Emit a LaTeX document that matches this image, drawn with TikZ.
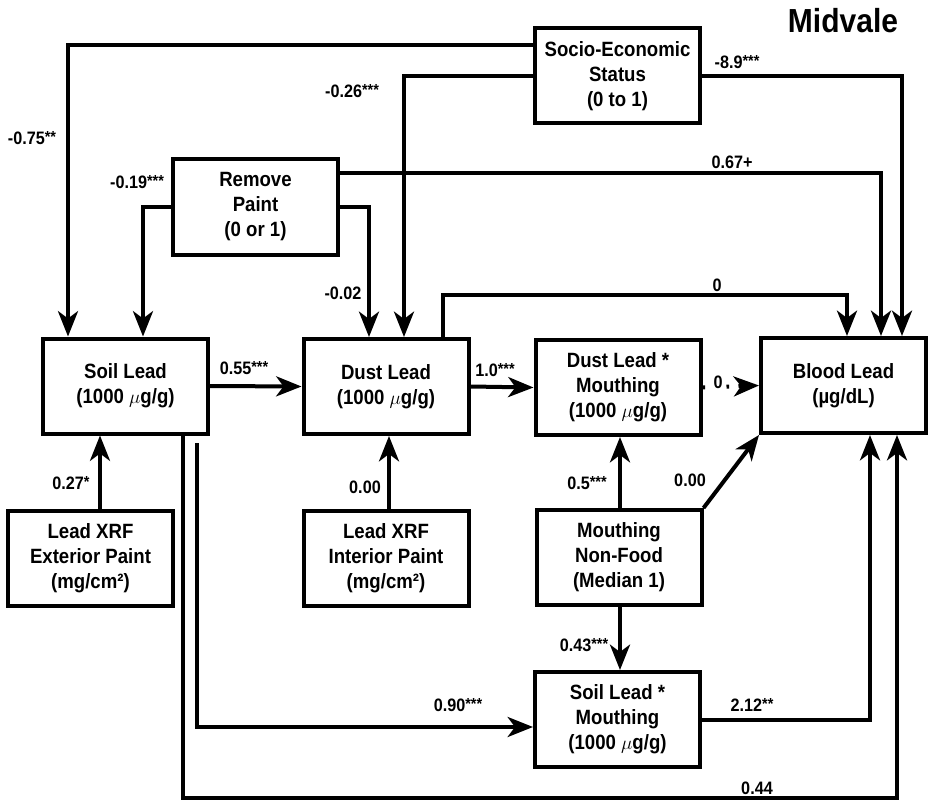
\documentclass[tikz,border=0pt]{standalone}
\usepackage{fontspec}
\setmainfont{Liberation Sans}[FakeStretch=0.9]
\usetikzlibrary{arrows.meta,calc}
\newcommand{\sig}[1]{\raisebox{0.12em}{\fontsize{12}{12}\selectfont #1}}
\begin{document}
\begin{tikzpicture}[x=0.75pt,y=-0.75pt,
  box/.style={draw,line width=3pt,minimum width=123.75pt,minimum height=71.25pt,align=center,
    font=\fontsize{15.5}{18.75}\selectfont\bfseries,inner sep=0pt},
  conn/.style={line width=3pt,-{Stealth[length=19pt,width=15pt,inset=5.5pt]}},
  lab/.style={font=\fontsize{13.5}{16}\selectfont\bfseries,inner sep=0pt}]
\useasboundingbox (0,0) rectangle (930,802);

% boxes
\node[box] (ses) at (617.5,76) {Socio-Economic\\Status\\(0 to 1)};
\node[box] (rp) at (255.5,207) {Remove\\Paint\\(0 or 1)};
\node[box] (sl) at (125.5,386) {Soil Lead\\(1000 $\mu$g/g)};
\node[box] (dl) at (386,386.5) {Dust Lead\\(1000 $\mu$g/g)};
\node[box] (dlm) at (618,387.5) {Dust Lead *\\Mouthing\\(1000 $\mu$g/g)};
\node[box] (bl) at (843.5,385.5) {Blood Lead\\(µg/dL)};
\node[box] (ext) at (90.5,558.5) {Lead XRF\\Exterior Paint\\(mg/cm²)};
\node[box] (int) at (386,558.5) {Lead XRF\\Interior Paint\\(mg/cm²)};
\node[box] (mnf) at (619,557.5) {Mouthing\\Non-Food\\(Median 1)};
\node[box] (slm) at (617.5,719.5) {Soil Lead *\\Mouthing\\(1000 $\mu$g/g)};

\node[font=\fontsize{25}{30}\selectfont\bfseries,inner sep=0pt] (title) at (843,21) {Midvale};

% connectors
\draw[conn] (ses.west |- 0,45) -| (sl.north -| 68,0);
\draw[conn] (ses.west) -| (dl.north -| 404,0);
\draw[conn] (ses.east) -| (bl.north -| 902,0);
\draw[conn] (rp.west) -| (sl.north -| 143,0);
\draw[conn] (rp.east) -| (dl.north -| 369,0);
\draw[conn] (rp.east |- 0,173) -| (bl.north -| 881,0);
\draw[conn] (dl.north -| 443,0) -- (443,295) -| (bl.north -| 847,0);
\draw[conn] (sl.east) -- (dl.west);
\draw[conn] (dl.east) -- (dlm.west);
\draw[conn,dash pattern=on 2pt off 7pt] (dlm.east) -- (bl.west);
\draw[conn] (ext.north -| 100,0) -- (sl.south -| 100,0);
\draw[conn] (int.north -| 389,0) -- (dl.south -| 389,0);
\draw[conn] (mnf.north -| 620,0) -- (dlm.south -| 620,0);
\draw[conn] (mnf.north east) -- (bl.south west);
\draw[conn] (mnf.south -| 620,0) -- (slm.north -| 620,0);
\coordinate (s90) at (197,443);
\draw[conn] (s90) |- (slm.west |- 0,727);
\draw[conn] (sl.south -| 183,0) -- (183,798) -| (bl.south -| 897,0);
\draw[conn] (slm.east) -| (bl.south -| 870,0);

% labels
\node[lab] (l1) at (32,138) {-0.75\sig{**}};
\node[lab] (l2) at (352,91) {-0.26\sig{***}};
\node[lab] (l3) at (737,62) {-8.9\sig{***}};
\node[lab] (l4) at (137,182) {-0.19\sig{***}};
\node[lab] (l5) at (343,293) {-0.02};
\node[lab] (l6) at (732,162) {0.67+};
\node[lab] (l7) at (717,285) {0};
\node[lab] (l8) at (244,368) {0.55\sig{***}};
\node[lab] (l9) at (495,370) {1.0\sig{***}};
\node[lab,fill=white,inner sep=1pt] (l10) at (718,382) {0};
\node[lab] (l11) at (71,483) {0.27\sig{*}};
\node[lab] (l12) at (365,487) {0.00};
\node[lab] (l13) at (587,483) {0.5\sig{***}};
\node[lab] (l14) at (690,480) {0.00};
\node[lab] (l15) at (584,645) {0.43\sig{***}};
\node[lab] (l16) at (458,705) {0.90\sig{***}};
\node[lab] (l17) at (752,705) {2.12\sig{**}};
\node[lab] (l18) at (757,788) {0.44};
\end{tikzpicture}
\end{document}
